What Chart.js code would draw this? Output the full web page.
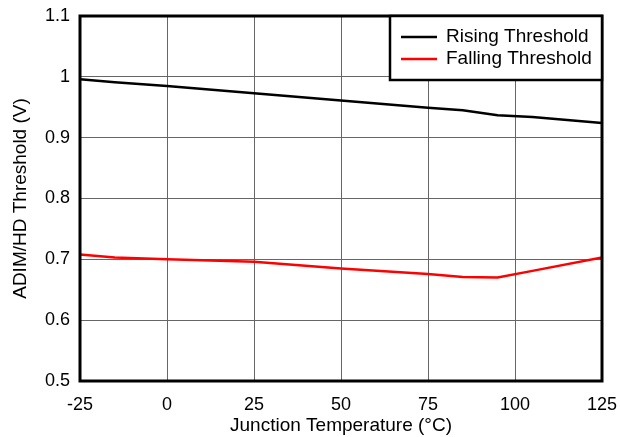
<!DOCTYPE html>
<html>
<head>
<meta charset="utf-8">
<script src="https://cdn.jsdelivr.net/npm/chart.js@4"></script>
<style>
  html, body { margin: 0; padding: 0; background: #fff; }
  #wrap { width: 620px; height: 437px; }
</style>
</head>
<body>
<div id="wrap"><canvas id="thresholdChart"></canvas></div>
<script>
// Junction temperature (°C) and threshold values (V)
const temps = [-25, -15, 0, 25, 50, 75, 85, 95, 105, 125];
const rising = [0.996, 0.991, 0.985, 0.973, 0.961, 0.949, 0.945, 0.937, 0.934, 0.924];
const falling = [0.708, 0.703, 0.700, 0.696, 0.685, 0.676, 0.671, 0.670, 0.681, 0.703];
const xTicks = [-25, 0, 25, 50, 75, 100, 125];
const yTicks = [0.5, 0.6, 0.7, 0.8, 0.9, 1, 1.1];

const FONT = 'Liberation Sans, Arial, sans-serif';

function toPoints(values) {
    return temps.map((t, i) => ({ x: t, y: values[i] }));
}

// Plot frame and boxed legend drawn on top
const framePlugin = {
    id: 'frame',
    afterDraw(chart) {
        const ctx = chart.ctx;
        const a = chart.chartArea;
        ctx.save();
        ctx.strokeStyle = '#000';
        ctx.lineWidth = 3;
        ctx.strokeRect(a.left, a.top, a.right - a.left, a.bottom - a.top);

        // legend box
        const boxW = 212, boxH = 64;
        const bx = a.right - boxW, by = a.top;
        ctx.fillStyle = '#fff';
        ctx.fillRect(bx, by, boxW, boxH);
        ctx.strokeStyle = '#000';
        ctx.lineWidth = 2.5;
        ctx.strokeRect(bx, by, boxW, boxH);
        ctx.font = '19px ' + FONT;
        ctx.textBaseline = 'middle';
        chart.data.datasets.forEach((ds, i) => {
            const ly = by + 21 + i * 22;
            ctx.strokeStyle = ds.borderColor;
            ctx.lineWidth = 2.5;
            ctx.beginPath();
            ctx.moveTo(bx + 11, ly);
            ctx.lineTo(bx + 47, ly);
            ctx.stroke();
            ctx.fillStyle = '#000';
            ctx.fillText(ds.label, bx + 56, ly);
        });
        ctx.restore();
    }
};

new Chart(document.getElementById('thresholdChart'), {
    type: 'line',
    data: {
        datasets: [
            {
                label: 'Rising Threshold',
                data: toPoints(rising),
                borderColor: '#000000',
                borderWidth: 2.5,
                pointRadius: 0,
                tension: 0
            },
            {
                label: 'Falling Threshold',
                data: toPoints(falling),
                borderColor: '#ff0000',
                borderWidth: 2.5,
                pointRadius: 0,
                tension: 0
            }
        ]
    },
    options: {
        responsive: true,
        maintainAspectRatio: false,
        animation: false,
        layout: { padding: { top: 16, right: 18, left: 0, bottom: 0 } },
        plugins: {
            legend: { display: false },
            tooltip: { enabled: false }
        },
        scales: {
            x: {
                type: 'linear',
                min: -25,
                max: 125,
                afterBuildTicks(scale) {
                    scale.ticks = xTicks.map(v => ({ value: v }));
                },
                afterFit(scale) {
                    scale.height = 56;
                    scale.paddingLeft = 0;
                    scale.paddingRight = 0;
                },
                grid: { color: '#666', lineWidth: 1, drawTicks: false },
                border: { display: false },
                ticks: {
                    color: '#000',
                    font: { family: FONT, size: 18 },
                    padding: 13,
                    maxRotation: 0
                },
                title: {
                    display: true,
                    text: 'Junction Temperature (°C)',
                    color: '#000',
                    font: { family: FONT, size: 19 },
                    padding: { top: 0, bottom: 0 }
                }
            },
            y: {
                min: 0.5,
                max: 1.1,
                afterBuildTicks(scale) {
                    scale.ticks = yTicks.map(v => ({ value: v }));
                },
                afterFit(scale) {
                    scale.width = 80;
                    scale.paddingTop = 0;
                    scale.paddingBottom = 0;
                },
                grid: { color: '#666', lineWidth: 1, drawTicks: false },
                border: { display: false },
                ticks: {
                    color: '#000',
                    font: { family: FONT, size: 18 },
                    padding: 10,
                    callback: v => String(Math.round(v * 10) / 10)
                },
                title: {
                    display: true,
                    text: 'ADIM/HD Threshold (V)',
                    color: '#000',
                    font: { family: FONT, size: 19 },
                    padding: { top: 9, bottom: 0 }
                }
            }
        }
    },
    plugins: [framePlugin]
});
</script>
</body>
</html>
